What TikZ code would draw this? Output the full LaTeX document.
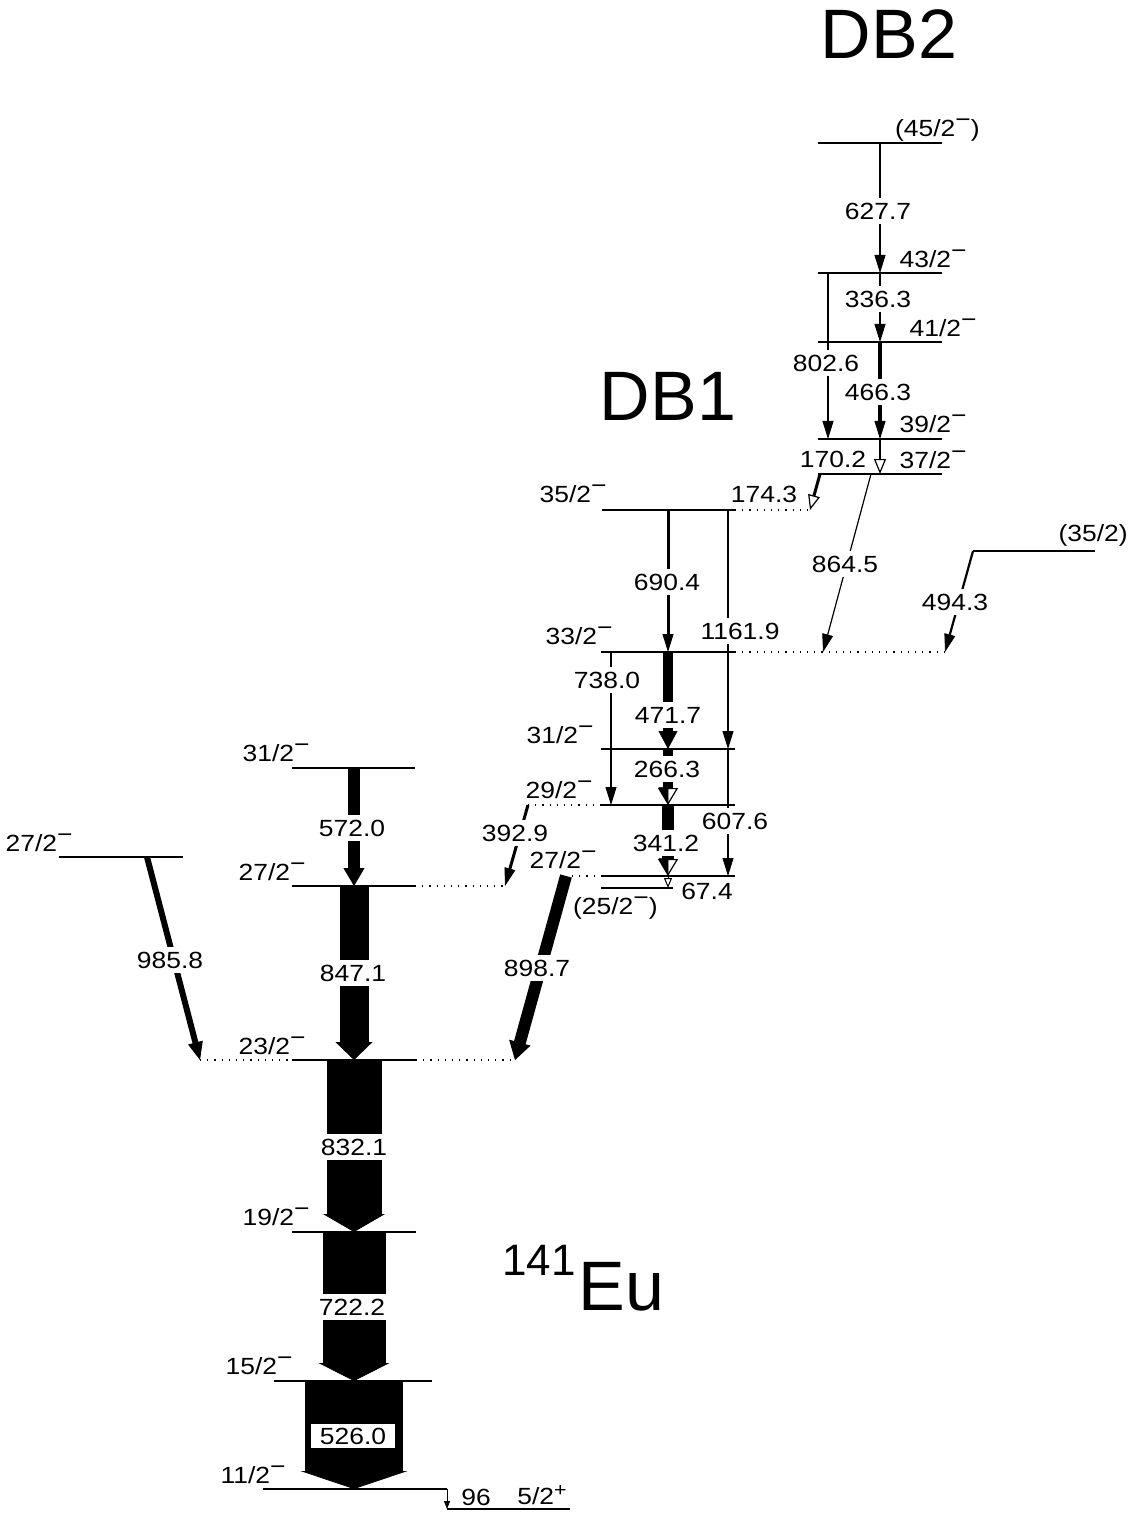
\documentclass[tikz,border=0pt]{standalone}
\usepackage{fontspec}
\setmainfont{Liberation Sans}
\newfontfamily\labfont[FakeStretch=1.13]{Liberation Sans}
\usetikzlibrary{arrows.meta}
\newcommand{\mi}{\raisebox{0.4em}{−}}
\newcommand{\pl}{\raisebox{0.35em}{\fontsize{9.5}{9.5}\selectfont +}}

\begin{document}
\begin{tikzpicture}[x=0.5pt, y=-0.5pt, font=\labfont\fontsize{11.7}{13}\selectfont,
  lev/.style={line width=0.55pt},
  ext/.style={line width=0.6pt, dash pattern=on 0.6pt off 3pt},
  thin/.style={line width=#1, -{Triangle[length=9pt, width=5.5pt, line width=0.4pt]}},
  tr/.style 2 args={line width=#1, -{Triangle[length=9pt, width=#2, line width=0.4pt]}},
  tro/.style={line width=#1, -{Triangle[open, length=7.5pt, width=6pt, line width=0.6pt]}},
  trh/.style 2 args={line width=#1, -{Triangle[length=8.5pt, width=#2, line width=0.4pt, right]}},
  opn/.style={line width=0.6pt, -{Triangle[open, length=8.5pt, width=10pt, line width=0.6pt]}},
  en/.style={fill=white, inner xsep=1pt, inner ysep=2.6pt},
  spin/.style={anchor=east, inner sep=0pt},
  title/.style={font=\rmfamily\fontsize{35}{35}\selectfont}]
\useasboundingbox (0,0) rectangle (1135,1513);

% titles
\node[title] (db2) at (889,34) {DB2};
\node[title] (db1) at (668,396) {DB1};
\node[font=\rmfamily\fontsize{22}{22}\selectfont, anchor=base east, inner sep=0pt] (mass) at (576,1275) {141};
\node[title, anchor=base west, inner sep=0pt] (elem) at (578,1310) {Eu};

% levels
\foreach \xa/\xb/\y in {818/942/143, 818/942/273, 818/942/342, 818/942/439, 818/942/474,
  973/1095/551, 602/735/510, 601/735/652, 601/735/749, 601/735/805, 601/735/876,
  601/673/888, 292/415/768, 292/415/886, 59/183/857, 292/416/1060, 292/416/1232,
  274/432/1381, 263/447/1489, 447/570/1509}
  \draw[lev] (\xa,\y) -- (\xb,\y);
\foreach \xa/\xb/\y in {735/810/510, 735/947/652, 528/601/805, 572/601/876,
  415/505/886, 200/292/1060, 416/515/1060}
  \draw[ext] (\xa,\y) -- (\xb,\y);

% transition end points
\foreach \n/\x/\y in {a627/880/143, b627/880/273, a336/880/273, b336/880/342,
  a466/880/342, b466/880/439, a802/828/273, b802/828/439, a170/880/439, b170/880/474,
  a174/820/474, b174/810/510, a864/871/474, b864/823/652, a494/973/551, b494/945/652,
  a690/668/510, b690/668/652, a1161/728/510, b1161/728/749, a738/611/652, b738/611/805,
  a471/668/652, b471/668/749, a266/668/749, b266/668/805, a607/728/749, b607/728/876,
  a341/668/805, b341/668/876, a392/528/805, b392/505/886, a67/668/876, b67/668/888,
  a898/566/876, b898/515/1060, a985/147/857, b985/200/1060, a572/354/768, b572/354/886,
  a847/354/886, b847/354/1060, a832/354/1060, b832/354/1232, a722/354/1232, b722/354/1381,
  a526/354/1381, b526/354/1489, a96/447/1489, b96/447/1509}
  \coordinate (\n) at (\x,\y);

% transitions
\draw[thin=1pt] (a627) -- (b627);
\draw[thin=1pt] (a336) -- (b336);
\draw[thin=2pt] (a466) -- (b466);
\draw[thin=0.8pt] (a802) -- (b802);
\draw[tro=1.2pt] (a170) -- (b170);
\draw[tro=1.5pt] (a174) -- (b174);
\draw[thin=0.6pt] (a864) -- (b864);
\draw[thin=1.1pt] (a494) -- (b494);
\draw[thin=1.5pt] (a690) -- (b690);
\draw[thin=0.6pt] (a1161) -- (b1161);
\draw[thin=0.6pt] (a738) -- (b738);
\draw[tr={5pt}{9.5pt}] (a471) -- (b471);
\draw[opn] (a266) -- (b266);
\draw[trh={5pt}{9.5pt}] (a266) -- (b266);
\draw[thin=0.8pt] (a607) -- (b607);
\draw[opn] (a341) -- (b341);
\draw[trh={6pt}{9.5pt}] (a341) -- (b341);
\draw[thin=1.5pt] (a392) -- (b392);
\draw[line width=0.5pt, -{Triangle[open, length=5pt, width=4pt, line width=0.5pt]}] (a67) -- (b67);
\draw[tr={6pt}{11pt}] (a898) -- (b898);
\draw[tr={3pt}{7.5pt}] (a985) -- (b985);
\draw[tr={6pt}{10.5pt}] (a572) -- (b572);
\draw[tr={14.5pt}{18.5pt}] (a847) -- (b847);
\draw[tr={27.5pt}{31pt}] (a832) -- (b832);
\draw[tr={31.5pt}{35.5pt}] (a722) -- (b722);
\draw[tr={49pt}{53.5pt}] (a526) -- (b526);
\draw[line width=0.5pt, -{Triangle[length=4pt, width=3pt, line width=0.4pt]}] (a96) -- (b96);

% energies
\node[en] (e627) at (878,211) {627.7};
\node[en] (e336) at (878,299) {336.3};
\node[en] (e466) at (878,392) {466.3};
\node[en] (e802) at (826,363) {802.6};
\node[en] (e170) at (833,459) {170.2};
\node[en] (e174) at (764,494) {174.3};
\node[en] (e864) at (845,564) {864.5};
\node[en] (e494) at (955,602) {494.3};
\node[en] (e690) at (667,582) {690.4};
\node[en] (e1161) at (740,631) {1161.9};
\node[en] (e738) at (607,680) {738.0};
\node[en] (e471) at (668,715) {471.7};
\node[en] (e266) at (667,769) {266.3};
\node[en] (e607) at (735,821) {607.6};
\node[en] (e341) at (666,843) {341.2};
\node[en] (e392) at (515,833) {392.9};
\node[en] (e67) at (707,891) {67.4};
\node[en] (e898) at (537,968) {898.7};
\node[en] (e985) at (170,960) {985.8};
\node[en] (e572) at (352,828) {572.0};
\node[en] (e847) at (353,973) {847.1};
\node[en] (e832) at (354,1147) {832.1};
\node[en] (e722) at (352,1307) {722.2};
\node[fill=white, inner sep=0pt, minimum width=42pt, minimum height=12pt] (e526) at (353,1436) {526.0};
\node (e96) at (476,1497) {96};

% spins
\node[spin] (s45) at (980,130) {(45/2\mi)};
\node[spin] (s43) at (967,259) {43/2\mi};
\node[spin] (s41) at (977,328) {41/2\mi};
\node[spin] (s39) at (967,424) {39/2\mi};
\node[spin] (s37) at (967,460) {37/2\mi};
\node[spin] (s35b) at (1128,535) {(35/2)};
\node[spin] (s35) at (607,494) {35/2\mi};
\node[spin] (s33) at (613,636) {33/2\mi};
\node[spin] (s31b) at (594,735) {31/2\mi};
\node[spin] (s29) at (593,790) {29/2\mi};
\node[spin] (s27b) at (597,860) {27/2\mi};
\node[spin] (s25) at (658,908) {(25/2\mi)};
\node[spin] (s31) at (310,753) {31/2\mi};
\node[spin] (s27) at (306,872) {27/2\mi};
\node[spin] (s27l) at (73,843) {27/2\mi};
\node[spin] (s23) at (306,1046) {23/2\mi};
\node[spin] (s19) at (310,1217) {19/2\mi};
\node[spin] (s15) at (293,1366) {15/2\mi};
\node[spin] (s11) at (286,1475) {11/2\mi};
\node[spin] (s5) at (567,1495) {5/2\pl};
\end{tikzpicture}
\end{document}
